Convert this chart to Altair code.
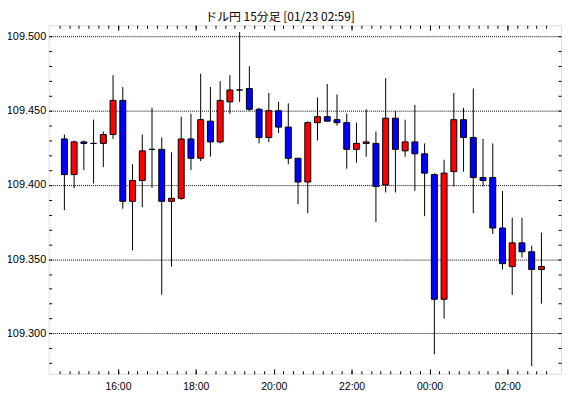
import altair as alt
import pandas as pd

# ---- data (USD/JPY 15-minute candles) ----
start_time = "2020-01-22 14:30"
opens = [109.431, 109.407, 109.429, 109.428, 109.428, 109.434, 109.457, 109.389, 109.403, 109.424,
         109.424, 109.389, 109.391, 109.431, 109.418, 109.443, 109.429, 109.456, 109.464, 109.465,
         109.451, 109.432, 109.450, 109.439, 109.418, 109.402, 109.442, 109.446, 109.444, 109.442,
         109.424, 109.428, 109.428, 109.400, 109.445, 109.423, 109.429, 109.421, 109.407, 109.323,
         109.409, 109.444, 109.432, 109.405, 109.405, 109.371, 109.345, 109.361, 109.355, 109.343]
highs = [109.434, 109.430, 109.430, 109.444, 109.436, 109.474, 109.466, 109.414, 109.434, 109.452,
         109.432, 109.422, 109.446, 109.448, 109.475, 109.466, 109.470, 109.474, 109.503, 109.480,
         109.452, 109.462, 109.456, 109.455, 109.418, 109.443, 109.459, 109.468, 109.461, 109.448,
         109.442, 109.451, 109.436, 109.472, 109.450, 109.444, 109.454, 109.428, 109.408, 109.417,
         109.462, 109.452, 109.465, 109.431, 109.428, 109.396, 109.378, 109.378, 109.359, 109.368]
lows = [109.383, 109.398, 109.410, 109.401, 109.412, 109.431, 109.384, 109.356, 109.385, 109.398,
        109.326, 109.345, 109.390, 109.410, 109.416, 109.419, 109.428, 109.448, 109.456, 109.450,
        109.428, 109.429, 109.435, 109.414, 109.387, 109.381, 109.430, 109.443, 109.440, 109.411,
        109.415, 109.419, 109.375, 109.395, 109.395, 109.419, 109.396, 109.379, 109.286, 109.310,
        109.399, 109.409, 109.381, 109.399, 109.367, 109.343, 109.326, 109.351, 109.278, 109.320]
closes = [109.407, 109.429, 109.428, 109.428, 109.434, 109.457, 109.389, 109.403, 109.423, 109.424,
          109.389, 109.391, 109.431, 109.418, 109.444, 109.429, 109.457, 109.464, 109.464, 109.451,
          109.432, 109.450, 109.439, 109.418, 109.402, 109.442, 109.446, 109.443, 109.442, 109.424,
          109.428, 109.429, 109.399, 109.445, 109.424, 109.429, 109.421, 109.408, 109.323, 109.408,
          109.444, 109.432, 109.405, 109.403, 109.371, 109.347, 109.361, 109.355, 109.343, 109.345]

y_label_values = [109.30, 109.35, 109.40, 109.45, 109.50]
y_minor_values = [round(109.28 + 0.01 * k, 2) for k in range(23)]
title_text = "ドル円 15分足 [01/23 02:59]"

# ---- table ----
times = pd.date_range(start_time, periods=len(opens), freq="15min")
mid = times + pd.Timedelta(minutes=7.5)
df = pd.DataFrame({
    "mid": (mid.asi8 // 10**6),
    "open": opens, "high": highs, "low": lows, "close": closes,
})
df["dir"] = ["up" if c > o else ("down" if c < o else "flat") for o, c in zip(opens, closes)]

def ms(s):
    return int(pd.Timestamp(s).value // 10**6)

x_domain = [ms("2020-01-22 14:21"), ms("2020-01-23 03:15")]
minor_x = [ms(t) for t in pd.date_range("2020-01-22 14:30", "2020-01-23 03:00", freq="15min")]
major_x = [ms(t) for t in pd.date_range("2020-01-22 16:00", "2020-01-23 02:00", freq="2h")]

W, H = 516, 351
LF = "Liberation Sans"

xscale = alt.Scale(type="utc", domain=x_domain, nice=False)
yscale = alt.Scale(domain=[109.2728, 109.5076], nice=False, zero=False)

def xax(**kw):
    base = dict(title=None, grid=False, domain=False, tickColor="black", tickWidth=1)
    base.update(kw)
    return alt.Axis(**base)

ax_x_labels = xax(orient="bottom", values=major_x, ticks=False,
                  labelExpr="utcFormat(datum.value, '%H:%M')", labelFont=LF,
                  labelFontSize=10.5, labelColor="black", labelPadding=8)
ax_x_bot_minor = xax(orient="top", offset=-H, values=minor_x, labels=False, tickSize=3)
ax_x_bot_major = xax(orient="top", offset=-H, values=major_x, labels=False, tickSize=5)
ax_x_top_minor = xax(orient="bottom", offset=-H, values=minor_x, labels=False, tickSize=3)
ax_x_top_major = xax(orient="bottom", offset=-H, values=major_x, labels=False, tickSize=5)

ax_y_labels = alt.Axis(orient="left", values=y_label_values, format=".3f", ticks=False,
                       domain=False, grid=True, gridColor="black", gridDash=[1, 1],
                       gridWidth=1, gridOpacity=1, labelFont=LF, labelFontSize=11,
                       labelColor="black", labelPadding=3, title=None)
ax_y_left_ticks = alt.Axis(orient="right", offset=-W, values=y_minor_values, labels=False,
                           domain=False, grid=False, tickSize=3, tickColor="black", title=None)
ax_y_right_ticks = alt.Axis(orient="left", offset=-W, values=y_minor_values, labels=False,
                            domain=False, grid=False, tickSize=3, tickColor="black", title=None)

base = alt.Chart(df)

wicks = base.mark_rule(color="black", strokeWidth=1).encode(
    x=alt.X("mid:T", scale=xscale, axis=ax_x_labels),
    y=alt.Y("low:Q", scale=yscale, axis=ax_y_labels),
    y2="high:Q",
)

bodies = base.mark_bar(size=6, stroke="black", strokeWidth=1).encode(
    x=alt.X("mid:T", scale=xscale, axis=ax_x_bot_minor),
    y=alt.Y("open:Q", scale=yscale, axis=ax_y_left_ticks),
    y2="close:Q",
    color=alt.Color("dir:N", scale=alt.Scale(domain=["up", "down", "flat"],
                                             range=["#ff0000", "#0000ff", "#000000"]),
                    legend=None),
)

helper1 = base.mark_rule(opacity=0).encode(
    x=alt.X("mid:T", scale=xscale, axis=ax_x_bot_major),
    y=alt.Y("low:Q", scale=yscale, axis=ax_y_right_ticks),
)
helper2 = base.mark_rule(opacity=0).encode(
    x=alt.X("mid:T", scale=xscale, axis=ax_x_top_minor),
    y=alt.Y("low:Q", scale=yscale, axis=None),
)
helper3 = base.mark_rule(opacity=0).encode(
    x=alt.X("mid:T", scale=xscale, axis=ax_x_top_major),
    y=alt.Y("low:Q", scale=yscale, axis=None),
)

chart = alt.layer(wicks, bodies, helper1, helper2, helper3).resolve_axis(
    x="independent", y="independent"
).properties(
    width=W, height=H,
    autosize=alt.AutoSizeParams(type="none"),
    padding={"left": 41, "top": 16, "right": 1, "bottom": 22},
    title=alt.Title(title_text, font="Noto Sans CJK JP", fontSize=12, fontWeight="normal",
                    color="black", anchor="middle", frame="group", dx=-25, offset=-8,
                    baseline="alphabetic"),
).configure_view(stroke="black", strokeWidth=1).configure(background="white")

chart.save("out.html", embed_options={"renderer": "svg", "actions": False})
